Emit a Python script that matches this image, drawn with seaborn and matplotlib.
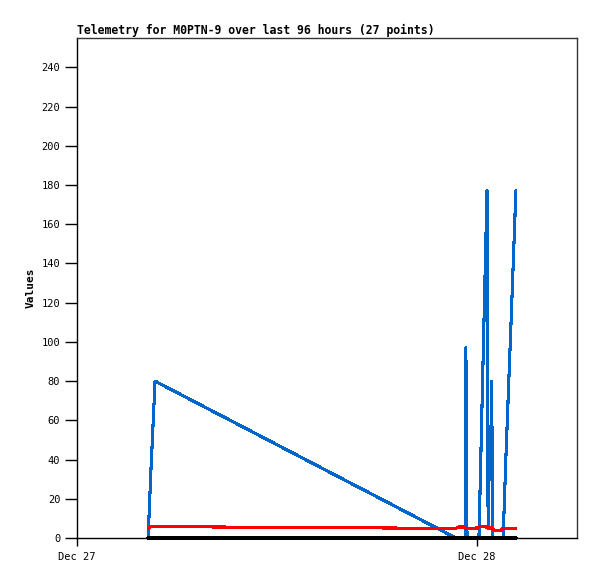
import pandas as pd
import numpy as np
import matplotlib
matplotlib.use("Agg")
import matplotlib.pyplot as plt
import matplotlib.dates as mdates
import seaborn as sns

# --- data ---
times = [
    "2023-12-27 04:16", "2023-12-27 04:26", "2023-12-27 04:41", "2023-12-27 22:44",
    "2023-12-27 22:52", "2023-12-27 23:10", "2023-12-27 23:17", "2023-12-27 23:20",
    "2023-12-27 23:24", "2023-12-28 00:04", "2023-12-28 00:07", "2023-12-28 00:36",
    "2023-12-28 00:40", "2023-12-28 00:45", "2023-12-28 00:48", "2023-12-28 00:53",
    "2023-12-28 00:56", "2023-12-28 01:01", "2023-12-28 01:23", "2023-12-28 01:34",
    "2023-12-28 01:44", "2023-12-28 01:55", "2023-12-28 02:06", "2023-12-28 02:13",
    "2023-12-28 02:20",
]
blue_vals = [0, 34, 80, 0, 0, 0, 0, 97, 0, 0, 0, 177, 5, 57, 30, 80, 0, 0, 0, 0,
             41, 82, 123, 150, 177]
red_vals = [5.0, 5.8, 5.8, 4.9, 5.6, 5.6, 5.0, 5.0, 5.0, 5.1, 5.8, 5.6, 5.2, 5.1,
            5.1, 5.1, 5.0, 3.8, 3.8, 4.9, 5.0, 5.0, 5.0, 5.0, 5.0]
black_vals = [0] * len(times)

title = "Telemetry for M0PTN-9 over last 96 hours (27 points)"
x_start, x_end = "2023-12-27 00:00", "2023-12-28 06:00"
y_ticks = list(range(0, 241, 20))

sns.set_theme(style="white")
plt.rcParams["font.family"] = ["DejaVu Sans Mono"]
plt.rcParams["text.color"] = "black"
plt.rcParams["axes.labelcolor"] = "black"
plt.rcParams["xtick.color"] = "black"
plt.rcParams["ytick.color"] = "black"

ts = pd.to_datetime(times)
df = pd.concat([
    pd.DataFrame({"time": ts, "value": blue_vals, "series": "a"}),
    pd.DataFrame({"time": ts, "value": red_vals, "series": "b"}),
    pd.DataFrame({"time": ts, "value": black_vals, "series": "c"}),
])

fig = plt.figure(figsize=(5.97, 5.79), dpi=100)
ax = fig.add_axes([77 / 597, 41 / 579, 500 / 597, 500 / 579])

sns.lineplot(data=df, x="time", y="value", hue="series",
             palette={"a": "#0066cc", "b": "#ff0000", "c": "#000000"},
             linewidth=1.5, legend=False, ax=ax, antialiased=False, sort=False)
for line in ax.get_lines():
    line.set_clip_on(False)

ax.set_xlim(pd.Timestamp(x_start), pd.Timestamp(x_end))
ax.set_ylim(0, 255)
ax.set_yticks(y_ticks)
ax.xaxis.set_major_locator(mdates.DayLocator())
ax.xaxis.set_major_formatter(mdates.DateFormatter("%b %d"))

ax.tick_params(axis="y", length=9, width=1, direction="out", pad=3,
               labelsize=7.5, left=True)
ax.tick_params(axis="x", length=6, width=1, direction="out", pad=4,
               labelsize=7.5, bottom=True)

for side in ["top", "right"]:
    ax.spines[side].set_color("#333333")
    ax.spines[side].set_linewidth(1)
for side in ["left", "bottom"]:
    ax.spines[side].set_color("black")
    ax.spines[side].set_linewidth(1)

ax.set_xlabel("")
ax.set_ylabel("Values", fontsize=8, fontweight="bold", labelpad=4)
ax.set_title(title, loc="left", fontsize=8.3, fontweight="bold", pad=3)
ax.grid(False)

fig.savefig("out.png", dpi=100)
